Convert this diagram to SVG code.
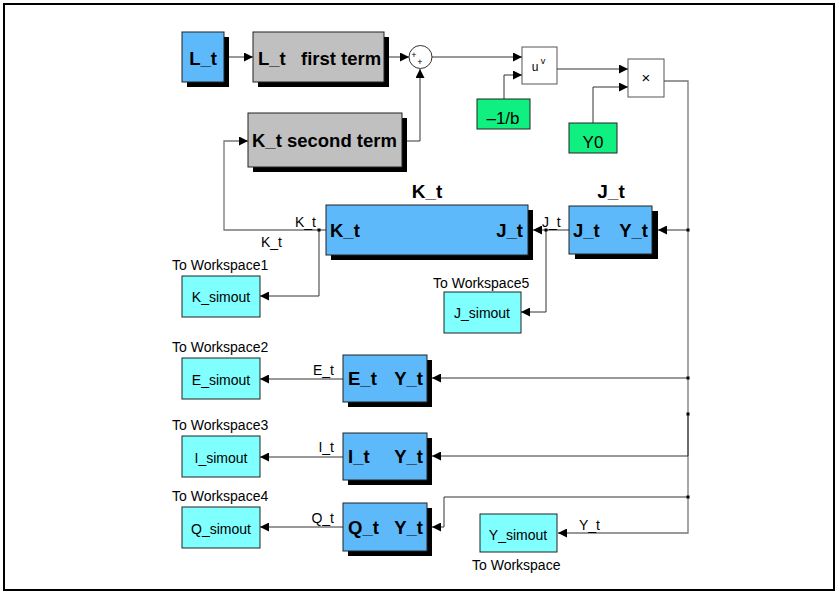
<svg xmlns="http://www.w3.org/2000/svg" width="837" height="592" viewBox="0 0 837 592">
<defs>
<marker id="ar" viewBox="0 0 10 10" refX="10" refY="5" markerWidth="9" markerHeight="9" markerUnits="userSpaceOnUse" orient="auto"><path d="M0,0 L10,5 L0,10 z" fill="#000"/></marker>
<style>
text{font-family:"Liberation Sans",Arial,sans-serif;fill:#000}
.b{font-weight:bold;font-size:18.5px}
.t{font-weight:bold;font-size:19px}
.n{font-size:14px}
.g{font-size:17px}
.sh{fill:#000}
.blue{fill:#5DB9FA;stroke:#222;stroke-width:1}
.gray{fill:#C0C0C0;stroke:#222;stroke-width:1}
.cyan{fill:#80FFFF;stroke:#222;stroke-width:1}
.green{fill:#10F080;stroke:#222;stroke-width:1}
.white{fill:#fff;stroke:#555;stroke-width:1}
.ln{fill:none;stroke:#333;stroke-width:1}
.lg{fill:none;stroke:#777;stroke-width:1.3}
.dot{fill:#000}
</style>
</defs>
<rect x="0" y="0" width="837" height="592" fill="#fff"/>
<rect x="4" y="4" width="830" height="586" fill="none" stroke="#000" stroke-width="2"/>

<g id="connectors">
<path class="ln" d="M224,57 H253" marker-end="url(#ar)"/>
<path class="ln" d="M384,57 H409" marker-end="url(#ar)"/>
<path class="ln" d="M402,141 H420 V69" marker-end="url(#ar)"/>
<path class="ln" d="M432,57 H522" marker-end="url(#ar)"/>
<path class="ln" d="M504,99 V75 H522" marker-end="url(#ar)"/>
<path class="ln" d="M557,69 H628" marker-end="url(#ar)"/>
<path class="ln" d="M593,123 V87 H628" marker-end="url(#ar)"/>
<path class="lg" d="M664,81 H688 V533 H558" marker-end="url(#ar)"/>
<path class="ln" d="M688,230 H658" marker-end="url(#ar)"/>
<path class="ln" d="M569,230 H533" marker-end="url(#ar)"/>
<path class="ln" d="M546,230 V312 H521" marker-end="url(#ar)"/>
<path class="lg" d="M326,230 H224 V141 H248" marker-end="url(#ar)"/>
<path class="ln" d="M319,230 V296 H260" marker-end="url(#ar)"/>
<path class="lg" d="M688,378 H432" marker-end="url(#ar)"/>
<path class="ln" d="M343,379 H260" marker-end="url(#ar)"/>
<path class="ln" d="M688,414 V456 H432" marker-end="url(#ar)"/>
<path class="ln" d="M343,457 H260" marker-end="url(#ar)"/>
<path class="ln" d="M688,497 H444 V527 H432" marker-end="url(#ar)"/>
<path class="ln" d="M343,527 H260" marker-end="url(#ar)"/>
<rect class="dot" x="686.5" y="228.5" width="3" height="3"/>
<rect class="dot" x="686.5" y="376.5" width="3" height="3"/>
<rect class="dot" x="686.5" y="412.5" width="3" height="3"/>
<rect class="dot" x="686.5" y="495.5" width="3" height="3"/>
<rect class="dot" x="544.5" y="228.5" width="3" height="3"/>
<rect class="dot" x="317.5" y="228.5" width="3" height="3"/>
<text class="n" x="316" y="227" text-anchor="end">K_t</text>
<text class="n" x="261" y="247">K_t</text>
<text class="n" x="542" y="227">J_t</text>
<text class="n" x="334" y="375" text-anchor="end">E_t</text>
<text class="n" x="334" y="452" text-anchor="end">I_t</text>
<text class="n" x="334" y="523" text-anchor="end">Q_t</text>
<text class="n" x="579" y="530">Y_t</text>
</g>

<g id="Lt">
<rect class="sh" x="187" y="37" width="42" height="50"/>
<rect class="blue" x="182" y="32" width="42" height="50"/>
<text class="b" x="203" y="65" text-anchor="middle">L_t</text>
</g>

<g id="first_term">
<rect class="sh" x="258" y="37" width="131" height="50"/>
<rect class="gray" x="253" y="32" width="131" height="50"/>
<text class="b" x="258" y="65">L_t</text>
<text class="b" x="301" y="65">first term</text>
</g>

<g id="second_term">
<rect class="sh" x="253" y="118" width="154" height="54"/>
<rect class="gray" x="248" y="113" width="154" height="54"/>
<text class="b" x="252" y="147">K_t second term</text>
</g>

<g id="sum">
<circle cx="420.5" cy="57" r="11.5" fill="#fff" stroke="#333" stroke-width="1"/>
<text x="414" y="58" font-size="9" text-anchor="middle">+</text>
<text x="420" y="65" font-size="9" text-anchor="middle">+</text>
</g>

<g id="pow">
<rect class="white" x="522" y="47" width="35" height="37"/>
<text x="535" y="71" font-size="12" text-anchor="middle">u</text>
<text x="543" y="64" font-size="9" text-anchor="middle">v</text>
</g>

<g id="minus1b">
<rect class="green" x="477" y="99" width="53" height="30"/>
<text class="g" x="503" y="124" text-anchor="middle">–1/b</text>
</g>

<g id="product">
<rect class="white" x="628" y="59" width="36" height="38"/>
<text x="646" y="83" font-size="15" text-anchor="middle">×</text>
</g>

<g id="Y0">
<rect class="green" x="569" y="123" width="48" height="30"/>
<text class="g" x="593" y="148" text-anchor="middle">Y0</text>
</g>

<g id="Kt">
<text class="t" x="427" y="198" text-anchor="middle">K_t</text>
<rect class="sh" x="331" y="210" width="202" height="50"/>
<rect class="blue" x="326" y="205" width="202" height="50"/>
<text class="b" x="330" y="237">K_t</text>
<text class="b" x="523" y="237" text-anchor="end">J_t</text>
</g>

<g id="Jt">
<text class="t" x="611" y="198" text-anchor="middle">J_t</text>
<rect class="sh" x="575" y="211" width="83" height="48"/>
<rect class="blue" x="569" y="206" width="83" height="48"/>
<text class="b" x="573" y="237">J_t</text>
<text class="b" x="648" y="237" text-anchor="end">Y_t</text>
</g>

<g id="Et">
<rect class="sh" x="348" y="360" width="84" height="47"/>
<rect class="blue" x="343" y="355" width="84" height="47"/>
<text class="b" x="348" y="385">E_t</text>
<text class="b" x="423" y="385" text-anchor="end">Y_t</text>
</g>

<g id="It">
<rect class="sh" x="348" y="438" width="84" height="47"/>
<rect class="blue" x="343" y="433" width="84" height="47"/>
<text class="b" x="348" y="463">I_t</text>
<text class="b" x="423" y="463" text-anchor="end">Y_t</text>
</g>

<g id="Qt">
<rect class="sh" x="348" y="508" width="84" height="48"/>
<rect class="blue" x="343" y="503" width="84" height="48"/>
<text class="b" x="348" y="534">Q_t</text>
<text class="b" x="423" y="534" text-anchor="end">Y_t</text>
</g>

<g id="K_simout">
<text class="n" x="172" y="270">To Workspace1</text>
<rect class="cyan" x="182" y="276" width="78" height="41"/>
<text class="n" x="221" y="302" text-anchor="middle">K_simout</text>
</g>

<g id="J_simout">
<text class="n" x="433" y="288">To Workspace5</text>
<rect class="cyan" x="444" y="292" width="77" height="41"/>
<text class="n" x="482" y="318" text-anchor="middle">J_simout</text>
</g>

<g id="E_simout">
<text class="n" x="172" y="352">To Workspace2</text>
<rect class="cyan" x="182" y="358" width="78" height="41"/>
<text class="n" x="221" y="385" text-anchor="middle">E_simout</text>
</g>

<g id="I_simout">
<text class="n" x="172" y="430">To Workspace3</text>
<rect class="cyan" x="182" y="436" width="78" height="41"/>
<text class="n" x="221" y="463" text-anchor="middle">I_simout</text>
</g>

<g id="Q_simout">
<text class="n" x="172" y="501">To Workspace4</text>
<rect class="cyan" x="182" y="507" width="78" height="41"/>
<text class="n" x="221" y="534" text-anchor="middle">Q_simout</text>
</g>

<g id="Y_simout">
<rect class="cyan" x="480" y="514" width="77" height="38"/>
<text class="n" x="518" y="540" text-anchor="middle">Y_simout</text>
<text class="n" x="472" y="570">To Workspace</text>
</g>
</svg>
